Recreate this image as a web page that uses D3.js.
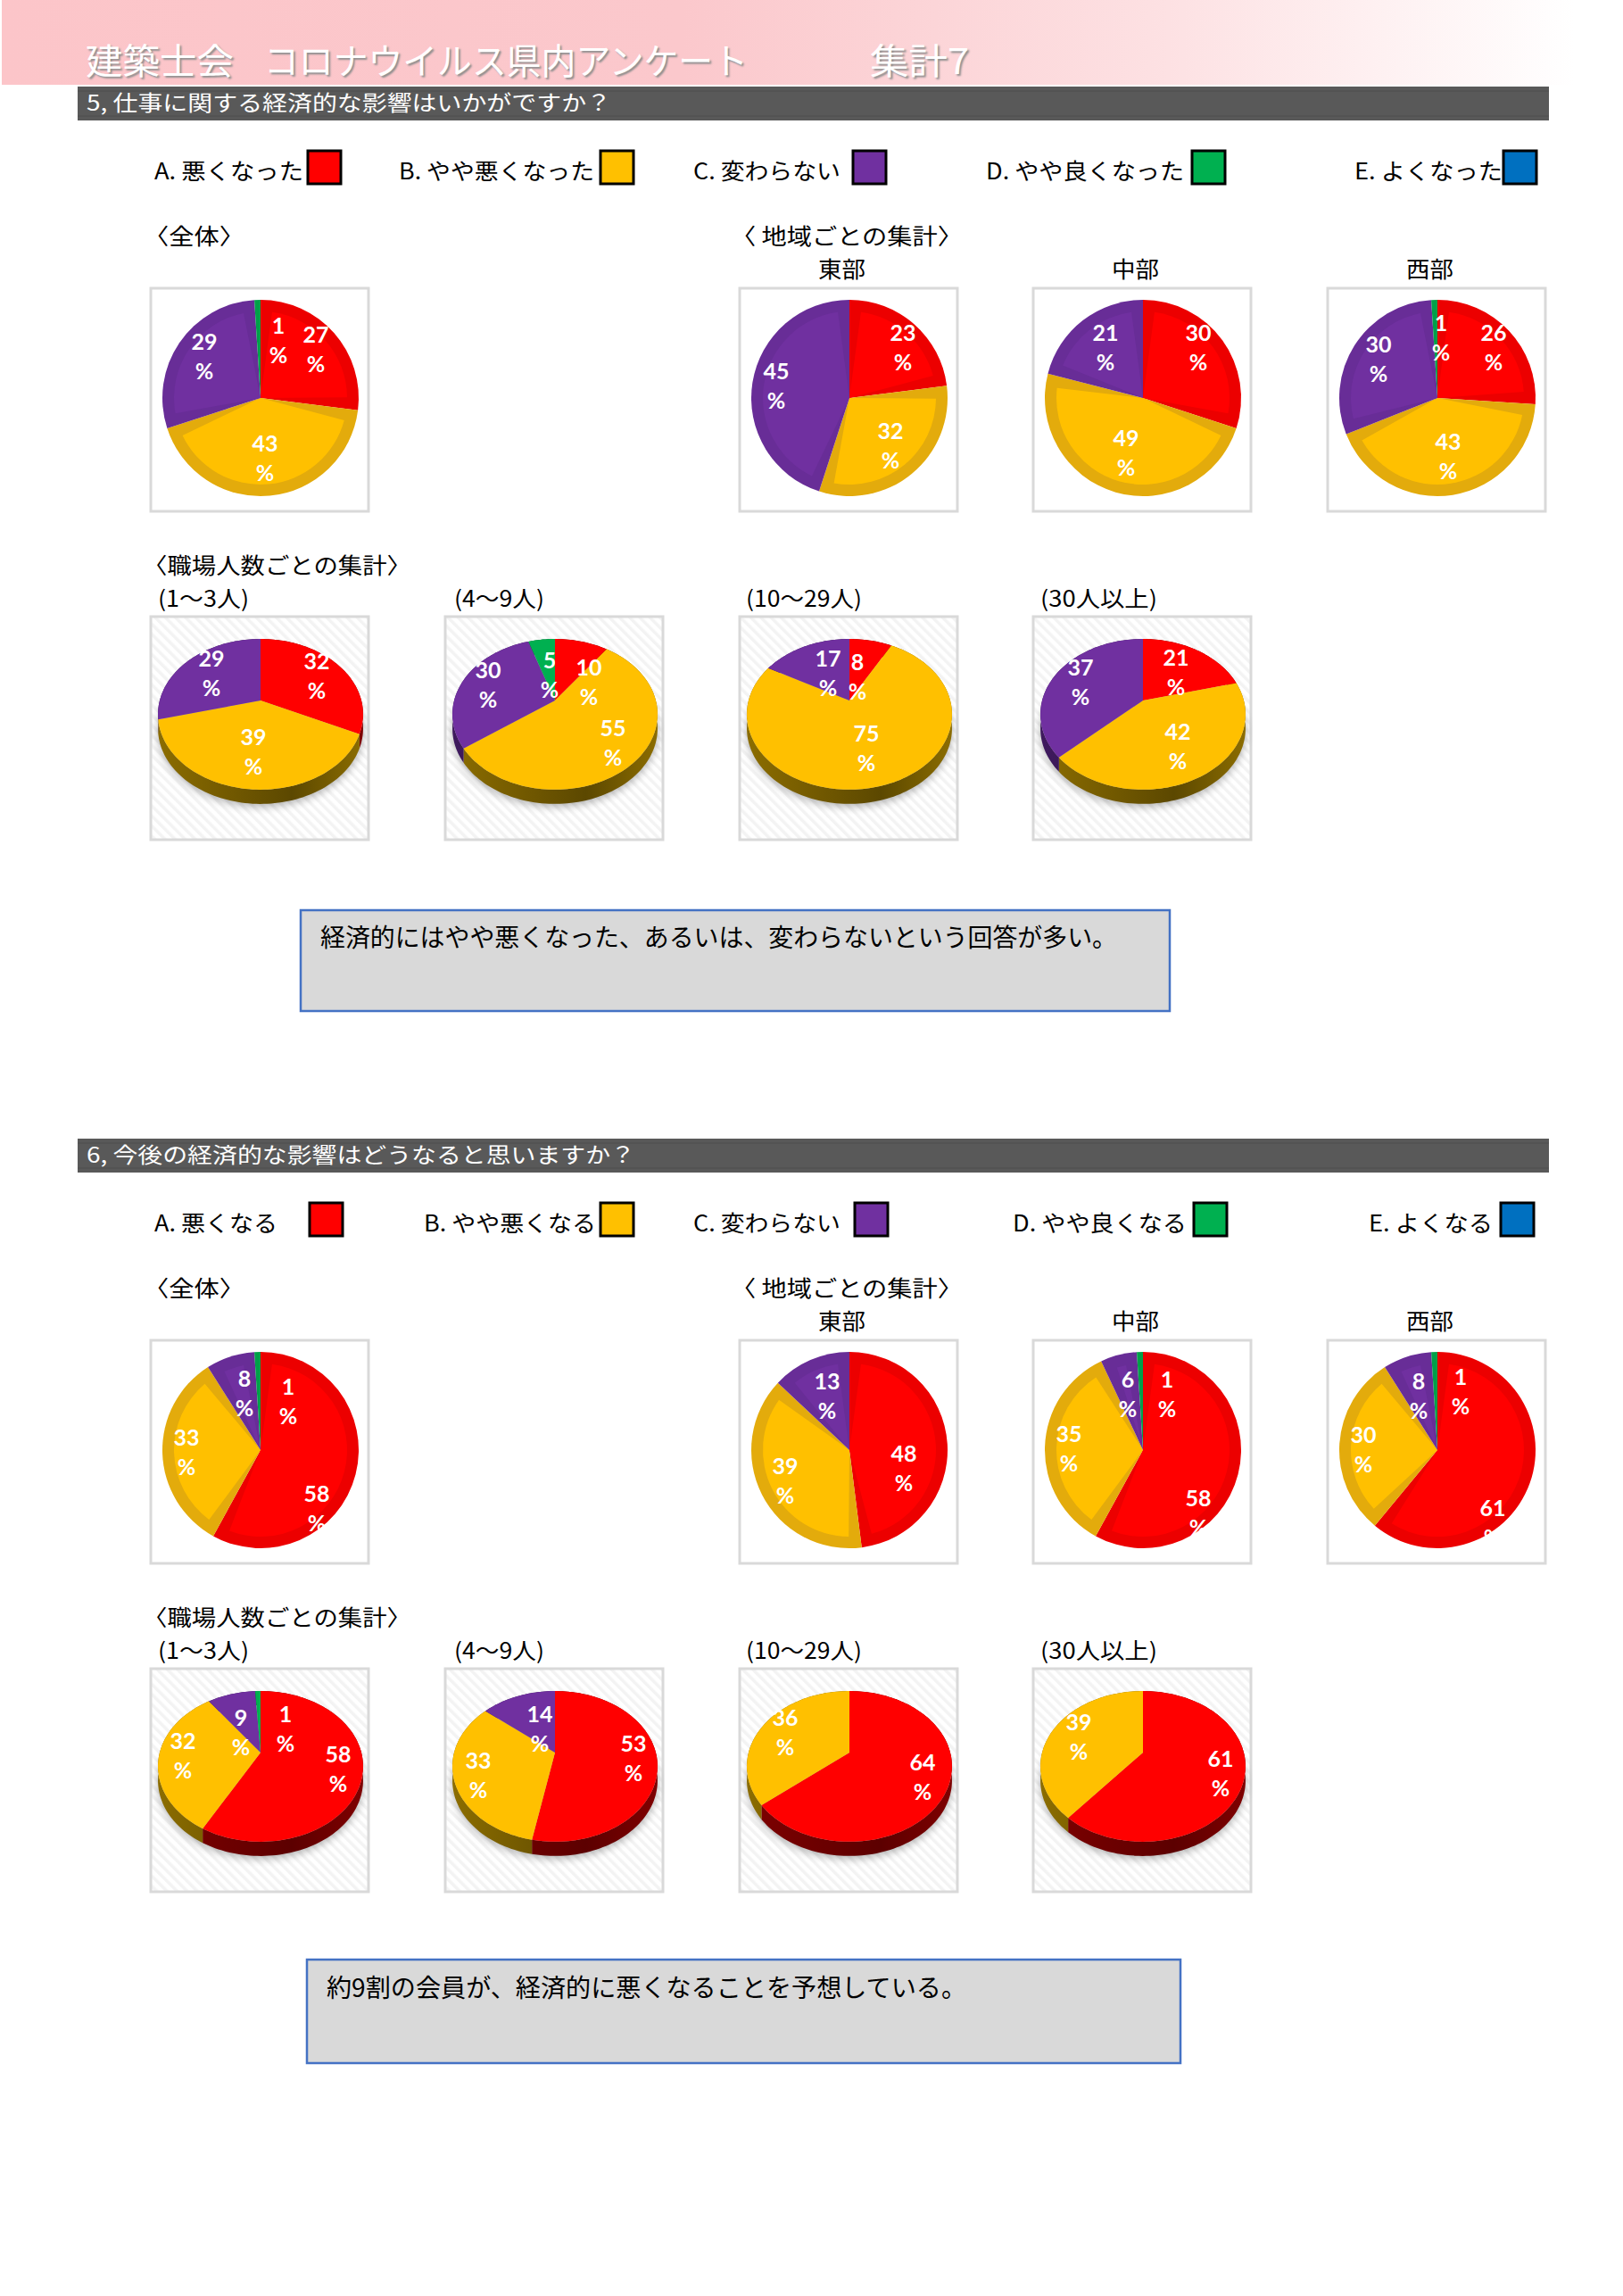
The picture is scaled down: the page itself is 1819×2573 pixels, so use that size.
<!DOCTYPE html>
<html>
<head>
<meta charset="utf-8">
<script src="https://cdn.jsdelivr.net/npm/d3@7"></script>
<style>
  html, body { margin: 0; padding: 0; background: #fff; }
  text { font-family: "Noto Sans CJK JP", "Noto Sans", sans-serif; }
  .pct { font-family: Lato, "Open Sans", sans-serif; font-weight: 700; fill: #fff; }
</style>
</head>
<body>
<svg id="page" width="1819" height="2573"></svg>
<script>
// answer order: A, B, C, D, E
const answerColors = ['#ff0000', '#ffc000', '#7030a0', '#00b050', '#0070c0']
const bevelColors = ['#ec0000', '#e3ab0c', '#682d97', '#00a049', '#0064ad']
const sideColors = ['#7f0000', '#8c6d00', '#3f1a5e', '#00602c', '#003f6c']
const sideDarkColors = ['#5c0000', '#5c4800', '#2c1245', '#004420', '#002c4c']

// 5, work
const q5Overall = [27, 43, 29, 1, 0]
const q5East = [23, 32, 45, 0, 0]
const q5Central = [30, 49, 21, 0, 0]
const q5West = [26, 43, 30, 1, 0]
const q5Staff1to3 = [32, 39, 29, 0, 0]
const q5Staff4to9 = [10, 55, 30, 5, 0]
const q5Staff10to29 = [8, 75, 17, 0, 0]
const q5Staff30 = [21, 42, 37, 0, 0]

// 6, outlook
const q6Overall = [58, 33, 8, 1, 0]
const q6East = [48, 39, 13, 0, 0]
const q6Central = [58, 35, 6, 1, 0]
const q6West = [61, 30, 8, 1, 0]
const q6Staff1to3 = [58, 32, 9, 1, 0]
const q6Staff4to9 = [53, 33, 14, 0, 0]
const q6Staff10to29 = [64, 36, 0, 0, 0]
const q6Staff30 = [61, 39, 0, 0, 0]

const regionNames = ['東部', '中部', '西部']
const staffNames = ['(1～3人)', '(4～9人)', '(10～29人)', '(30人以上)']
const q5Answers = ['A. 悪くなった', 'B. やや悪くなった', 'C. 変わらない', 'D. やや良くなった', 'E. よくなった']
const q6Answers = ['A. 悪くなる', 'B. やや悪くなる', 'C. 変わらない', 'D. やや良くなる', 'E. よくなる']

// where the data labels sit, relative to each pie's centre (hand placed in the original)
const q5FlatSpots = [
  [[62, -54], [5, 68], [-63, -46], [20, -64]],
  [[60, -56], [46, 54], [-82, -13]],
  [[62, -56], [-19, 62], [-42, -56]],
  [[63, -56], [12, 66], [-66, -43], [4, -67]]
]
const q5TiltSpots = [
  [[63, -27], [-8, 58], [-55, -30]],
  [[38, -20], [65, 48], [-75, -17], [-6, -28]],
  [[9, -26], [19, 54], [-24, -30]],
  [[37, -31], [39, 52], [-70, -20]]
]
const q6FlatSpots = [
  [[63, 66], [-83, 3], [-18, -63], [31, -54]],
  [[61, 21], [-72, 35], [-25, -60]],
  [[62, 71], [-83, -1], [-17, -62], [27, -62]],
  [[62, 82], [-83, 0], [-21, -60], [26, -65]]
]
const q6TiltSpots = [
  [[87, 19], [-87, 4], [-22, -22], [28, -26]],
  [[88, 7], [-86, 26], [-17, -26]],
  [[82, 28], [-72, -22]],
  [[87, 24], [-72, -17]]
]

const svg = d3.select('#page')
const defs = svg.append('defs')

const frameW = 244
const frameH = 250
const columnX = [169, 499, 829, 1158, 1488]
const sectionShift = 1179
const pctGap = 33
const pctLift = 2

// header fade
const headerFade = defs.append('linearGradient').attr('id', 'headerFade')
headerFade.selectAll('stop')
  .data([[0, '#fcc5c9'], [0.42, '#fbc8cc'], [0.72, '#fde1e3'], [0.97, '#ffffff']])
  .enter().append('stop')
  .attr('offset', d => d[0])
  .attr('stop-color', d => d[1])

// hatching behind the tilted pies
const hatch = defs.append('pattern')
  .attr('id', 'hatch')
  .attr('patternUnits', 'userSpaceOnUse')
  .attr('width', 8)
  .attr('height', 8)
  .attr('patternTransform', 'rotate(-45)')
hatch.append('rect').attr('width', 8).attr('height', 8).attr('fill', '#fff')
hatch.append('rect').attr('width', 3.5).attr('height', 8).attr('fill', '#f3f3f3')

defs.append('filter').attr('id', 'blur')
  .attr('x', '-20%').attr('y', '-20%').attr('width', '140%').attr('height', '140%')
  .append('feGaussianBlur').attr('stdDeviation', 5)

answerColors.forEach((c, i) => {
  const g = defs.append('linearGradient')
    .attr('id', 'side' + i)
    .attr('gradientUnits', 'userSpaceOnUse')
    .attr('x1', -116).attr('x2', 116).attr('y1', 0).attr('y2', 0)
  g.append('stop').attr('offset', 0).attr('stop-color', sideColors[i])
  g.append('stop').attr('offset', 0.65).attr('stop-color', sideDarkColors[i])
  g.append('stop').attr('offset', 1).attr('stop-color', sideColors[i])
})

function label(x, y, str, size, width, color) {
  return svg.append('text')
    .attr('x', x)
    .attr('y', y)
    .attr('dominant-baseline', 'central')
    .attr('font-size', size)
    .attr('fill', color || '#000')
    .attr('textLength', width)
    .attr('lengthAdjust', 'spacingAndGlyphs')
    .text(str)
}

const pie = d3.pie().sort(null).value(d => d.value)

function slices(values) {
  return pie(values.map((value, answer) => ({ value, answer })).filter(d => d.value > 0))
}

function drawPct(g, arcs, spots) {
  arcs.forEach((d, i) => {
    const [dx, dy] = spots[i]
    g.append('text').attr('class', 'pct').attr('x', dx).attr('y', dy - pctLift - pctGap / 2)
      .attr('text-anchor', 'middle').attr('dominant-baseline', 'central')
      .attr('font-size', 25).text(d.data.value)
    g.append('text').attr('class', 'pct').attr('x', dx).attr('y', dy - pctLift + pctGap / 2)
      .attr('text-anchor', 'middle').attr('dominant-baseline', 'central')
      .attr('font-size', 25).text('%')
  })
}

function flatPie(x, y, values, spots) {
  svg.append('rect')
    .attr('x', x).attr('y', y).attr('width', frameW).attr('height', frameH)
    .attr('fill', '#fff').attr('stroke', '#d9d9d9').attr('stroke-width', 3)

  const radius = 110
  const bevel = 13
  const outer = d3.arc().innerRadius(0).outerRadius(radius)
  const inner = d3.arc().innerRadius(0).outerRadius(radius - bevel)
    .padAngle(2 * bevel / radius).padRadius(radius)

  const g = svg.append('g').attr('transform', `translate(${x + 123},${y + 123})`)
  const arcs = slices(values)
  g.selectAll('.outer').data(arcs).enter().append('path')
    .attr('class', 'outer')
    .attr('d', outer)
    .attr('fill', d => bevelColors[d.data.answer])
  g.selectAll('.inner').data(arcs).enter().append('path')
    .attr('class', 'inner')
    .attr('d', inner)
    .attr('fill', d => answerColors[d.data.answer])
  drawPct(g, arcs, spots)
}

// perspective of the tilted disc, centre of the circle stays the slices' apex
const tiltA = 113
const tiltB = 81.6
const tiltK = -0.183
const tiltDepth = 16

function project(angle) {
  const u = Math.sin(angle)
  const v = -Math.cos(angle)
  const d = 1 + tiltK * v
  return [tiltA * u / d, tiltB * v / d]
}

function rimPoints(a0, a1) {
  const n = Math.max(2, Math.ceil((a1 - a0) / 0.03))
  return d3.range(n + 1).map(i => project(a0 + (a1 - a0) * i / n))
}

const polygon = d3.line().curve(d3.curveLinearClosed)

function tiltPie(x, y, values, spots) {
  svg.append('rect')
    .attr('x', x).attr('y', y).attr('width', frameW).attr('height', frameH)
    .attr('fill', 'url(#hatch)').attr('stroke', '#d9d9d9').attr('stroke-width', 3)

  const g = svg.append('g').attr('transform', `translate(${x + 123},${y + 94})`)
  const arcs = slices(values)

  // soft shadow under the disc
  g.append('path')
    .attr('d', polygon(rimPoints(0, 2 * Math.PI).map(p => [p[0], p[1] + tiltDepth + 3])))
    .attr('fill', '#000')
    .attr('opacity', 0.3)
    .attr('filter', 'url(#blur)')

  g.selectAll('.side').data(arcs).enter().append('path')
    .attr('class', 'side')
    .attr('d', d => {
      const rim = rimPoints(d.startAngle, d.endAngle)
      const low = rim.map(p => [p[0], p[1] + tiltDepth]).reverse()
      return polygon(rim.concat(low))
    })
    .attr('fill', d => `url(#side${d.data.answer})`)

  g.selectAll('.top').data(arcs).enter().append('path')
    .attr('class', 'top')
    .attr('d', d => polygon([[0, 0]].concat(rimPoints(d.startAngle, d.endAngle))))
    .attr('fill', d => answerColors[d.data.answer])

  drawPct(g, arcs, spots)
}

function section(shift, head, answers, answerText, swatchX, flatValues, flatSpots, tiltValues, tiltSpots) {
  // dark title bar
  svg.append('rect').attr('x', 87).attr('y', 97 + shift).attr('width', 1649).attr('height', 38).attr('fill', '#595959')
  ;[102, 130].forEach(y => {
    svg.append('line').attr('x1', 87).attr('x2', 1736).attr('y1', y + shift).attr('y2', y + shift)
      .attr('stroke', '#4f4f4f').attr('stroke-width', 1)
  })
  label(97, 113 + shift, head.text, 24, head.width, '#fff')

  // legend
  answers.forEach((a, i) => {
    label(answerText[i][0], 190 + shift, a, 25, answerText[i][1])
    svg.append('rect')
      .attr('x', swatchX[i]).attr('y', 169 + shift).attr('width', 37).attr('height', 37)
      .attr('fill', answerColors[i]).attr('stroke', '#000').attr('stroke-width', 3)
  })

  label(161, 263 + shift, '〈全体〉', 25, 113)
  label(819, 263 + shift, '〈 地域ごとの集計〉', 25, 260)
  regionNames.forEach((name, i) => {
    label(columnX[i + 2] + 88, 300 + shift, name, 25, 53)
  })
  label(160, 632 + shift, '〈職場人数ごとの集計〉', 25, 301)
  ;[[177, 102], [509, 101], [836, 130], [1166, 131]].forEach((t, i) => {
    label(t[0], 669 + shift, staffNames[i], 25, t[1])
  })

  const flatColumns = [0, 2, 3, 4]
  flatValues.forEach((values, i) => {
    flatPie(columnX[flatColumns[i]], 323 + shift, values, flatSpots[i])
  })
  tiltValues.forEach((values, i) => {
    tiltPie(columnX[i], 691 + shift, values, tiltSpots[i])
  })
}

function noteBox(x, y, w, h, str, textX, textY, textW) {
  svg.append('rect').attr('x', x).attr('y', y).attr('width', w).attr('height', h)
    .attr('fill', '#d9d9d9').attr('stroke', '#4472c4').attr('stroke-width', 2.5)
  label(textX, textY, str, 28, textW)
}

// page header
svg.append('rect').attr('x', 2).attr('y', 0).attr('width', 1817).attr('height', 95).attr('fill', 'url(#headerFade)')
label(96, 66, '建築士会', 40, 166, '#fff').style('text-shadow', '2px 2px 2px #8f8f8f')
label(296, 66, 'コロナウイルス県内アンケート', 40, 542, '#fff').style('text-shadow', '2px 2px 2px #8f8f8f')
label(975, 66, '集計7', 40, 111, '#fff').style('text-shadow', '2px 2px 2px #8f8f8f')

section(0, { text: '5, 仕事に関する経済的な影響はいかがですか？', width: 588 }, q5Answers,
  [[173, 167], [447, 219], [777, 165], [1105, 222], [1518, 166]],
  [345, 673, 956, 1336, 1685],
  [q5Overall, q5East, q5Central, q5West], q5FlatSpots,
  [q5Staff1to3, q5Staff4to9, q5Staff10to29, q5Staff30], q5TiltSpots)

section(sectionShift, { text: '6, 今後の経済的な影響はどうなると思いますか？', width: 615 }, q6Answers,
  [[173, 138], [475, 193], [777, 165], [1135, 195], [1534, 139]],
  [347, 673, 958, 1338, 1682],
  [q6Overall, q6East, q6Central, q6West], q6FlatSpots,
  [q6Staff1to3, q6Staff4to9, q6Staff10to29, q6Staff30], q6TiltSpots)

noteBox(337, 1020, 974, 113, '経済的にはやや悪くなった、あるいは、変わらないという回答が多い。', 359, 1049, 893)
noteBox(344, 2196, 979, 116, '約9割の会員が、経済的に悪くなることを予想している。', 366, 2226, 717)
</script>
</body>
</html>
